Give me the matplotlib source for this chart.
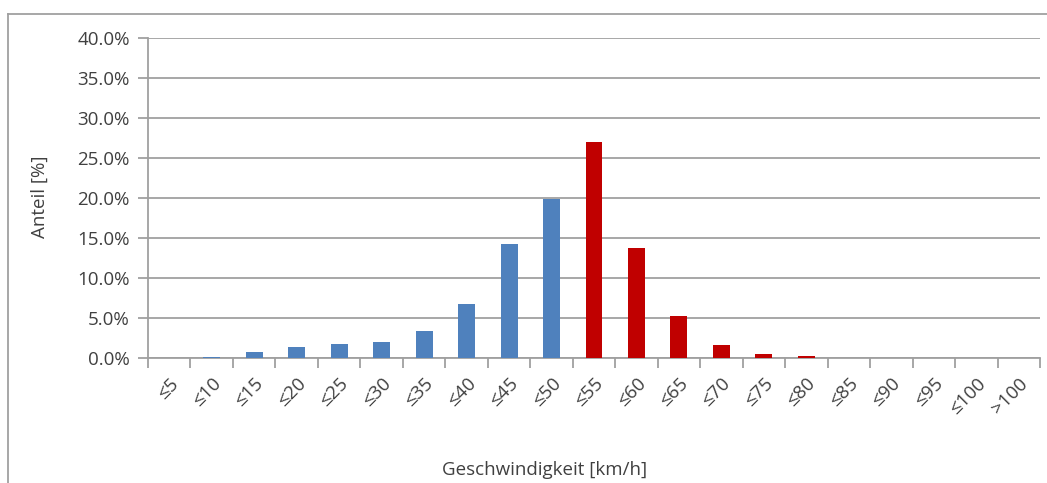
import matplotlib.pyplot as plt
from matplotlib.lines import Line2D

plt.rcParams['font.family'] = ['Open Sans', 'DejaVu Sans']

# speed classes and share in percent
labels = ['≤5', '≤10', '≤15', '≤20', '≤25', '≤30', '≤35', '≤40', '≤45', '≤50',
          '≤55', '≤60', '≤65', '≤70', '≤75', '≤80', '≤85', '≤90', '≤95', '≤100', '>100']
shares = [0.0, 0.15, 0.8, 1.4, 1.8, 2.0, 3.4, 6.8, 14.3, 19.9,
          27.0, 13.8, 5.3, 1.6, 0.55, 0.2, 0.05, 0.0, 0.0, 0.0, 0.0]
blue_until = '≤50'

blue = '#4f81bd'
red = '#c00000'
grey = '#a0a0a0'
text_col = '#404040'
fs = 13.5

colors = []
is_blue = True
for lab in labels:
    colors.append(blue if is_blue else red)
    if lab == blue_until:
        is_blue = False

fig = plt.figure(figsize=(10.47, 4.83), dpi=100)
ax = fig.add_axes([148 / 1047, 1 - 358 / 483, (1040 - 148) / 1047, 320 / 483])

x = list(range(len(labels)))
ax.bar(x, shares, width=0.4, color=colors, zorder=3)

ax.set_xlim(-0.5, len(labels) - 0.5)
ax.set_ylim(0, 40)
ax.set_yticks(range(0, 41, 5))
ax.set_yticklabels(['%.1f%%' % v for v in range(0, 41, 5)])
ax.yaxis.grid(True, color=grey, linewidth=1.3, zorder=0)

ax.set_xticks([i - 0.5 for i in range(len(labels) + 1)], minor=False)
ax.set_xticklabels([])
ax.set_xticks(x, minor=True)
ax.set_xticklabels(labels, minor=True, rotation=45, ha='right', va='top',
                   rotation_mode='anchor', fontsize=fs, color=text_col)
ax.tick_params(axis='x', which='minor', length=0, pad=12)
ax.tick_params(axis='x', which='major', length=7, width=1.3, color=grey)
ax.tick_params(axis='y', length=7, width=1.3, color=grey, labelsize=fs,
               labelcolor=text_col, pad=6)

for s in ['top', 'right']:
    ax.spines[s].set_visible(False)
for s in ['left', 'bottom']:
    ax.spines[s].set_color(grey)
    ax.spines[s].set_linewidth(1.3)

fig.text(40 / 1047, 1 - 197 / 483, 'Anteil [%]', rotation=90, ha='center',
         va='center', fontsize=fs, color=text_col)
fig.text(545 / 1047, 1 - 470 / 483, 'Geschwindigkeit [km/h]', ha='center',
         va='center', fontsize=fs, color=text_col)

# outer chart frame
fig.add_artist(Line2D([8 / 1047, 8 / 1047], [0, 1 - 14 / 483], transform=fig.transFigure,
                      color=grey, linewidth=1.3))
fig.add_artist(Line2D([8 / 1047, 1], [1 - 14 / 483, 1 - 14 / 483], transform=fig.transFigure,
                      color=grey, linewidth=1.3))

fig.savefig('out.png', dpi=100, facecolor='white')
